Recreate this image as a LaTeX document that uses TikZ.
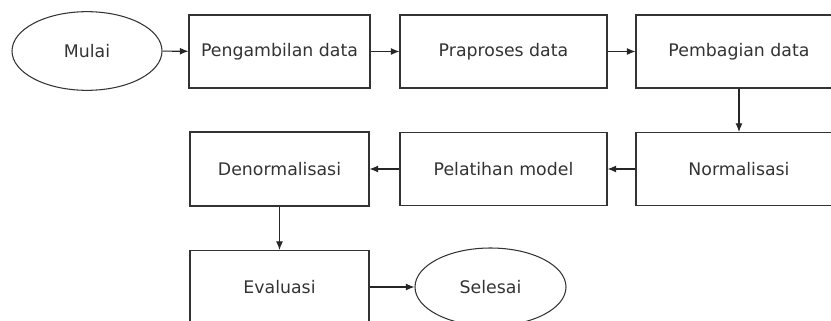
\documentclass[tikz,border=0pt]{standalone}
\usepackage{fontspec}
\setmainfont{DejaVu Sans}
\usepackage{tikz}
\usetikzlibrary{arrows.meta,shapes.geometric}

\begin{document}
\begin{tikzpicture}[
        proses/.style = {draw=black!80, line width=0.9pt, rectangle, minimum height=2.19cm, inner sep=0pt, font = {\fontsize{14.8}{18}\selectfont}, text=black!80},
        terminal/.style = {draw=black!80, line width=0.9pt, ellipse, inner sep=0pt, minimum width=4.5cm, minimum height=2.36cm, font = {\fontsize{14.8}{18}\selectfont}, text=black!80},
        alur/.style = {draw=black!85, line width=0.9pt, -{Latex[length=2.6mm,width=2.1mm]}}
    ]
        \useasboundingbox (0, 0) rectangle (24.93, 9.6);
        % baris atas
        \node[terminal] (mulai) at (2.61, 8.07) {Mulai};
        \node[proses, minimum width=5.43cm] (ambil) at (8.385, 8.055) {Pengambilan data};
        \node[proses, minimum width=6.21cm] (praproses) at (15.105, 8.055) {Praproses data};
        \node[proses, minimum width=6.18cm] (bagi) at (22.17, 8.055) {Pembagian data};
        % baris tengah
        \node[proses, minimum width=6.18cm] (normal) at (22.17, 4.53) {Normalisasi};
        \node[proses, minimum width=6.21cm] (latih) at (15.105, 4.53) {Pelatihan model};
        \node[proses, minimum width=5.37cm, minimum height=2.22cm] (denormal) at (8.385, 4.53) {Denormalisasi};
        % baris bawah
        \node[proses, minimum width=5.37cm] (evaluasi) at (8.385, 0.99) {Evaluasi};
        \node[terminal, minimum width=4.53cm, minimum height=2.34cm] (selesai) at (14.715, 0.99) {Selesai};

        \draw[alur] (mulai) -- (ambil);
        \draw[alur] (ambil) -- (praproses);
        \draw[alur] (praproses) -- (bagi);
        \draw[alur] (bagi) -- (normal);
        \draw[alur] (normal) -- (latih);
        \draw[alur] (latih) -- (denormal);
        \draw[alur] (denormal) -- (evaluasi);
        \draw[alur] (evaluasi) -- (selesai);
    \end{tikzpicture}
\end{document}
